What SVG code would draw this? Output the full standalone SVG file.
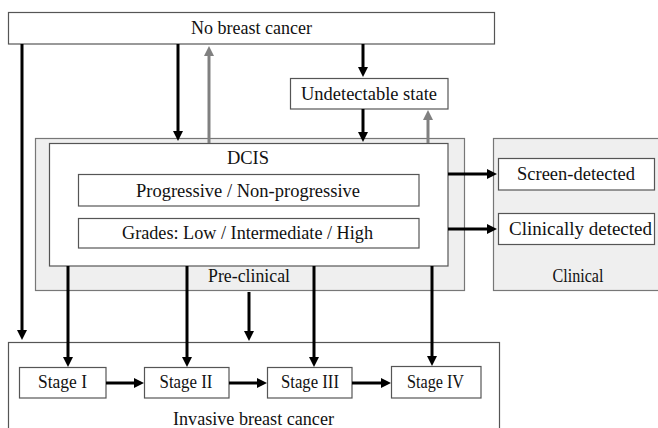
<svg xmlns="http://www.w3.org/2000/svg" width="658" height="428" viewBox="0 0 658 428">
<defs>
<style>
text{font-family:"Liberation Serif","DejaVu Serif",serif;font-size:18.5px;fill:#111;text-anchor:middle;lengthAdjust:spacingAndGlyphs}
.box{fill:#fff;stroke:#555;stroke-width:1.2}
.area{fill:#efefef;stroke:#777;stroke-width:1.2}
.ar{stroke:#000;stroke-width:3;fill:none;marker-end:url(#ah)}
.gr{stroke:#808080;stroke-width:3;fill:none;marker-end:url(#gh)}
</style>
<marker id="ah" viewBox="0 0 10 10" refX="2" refY="5" markerWidth="10" markerHeight="10" markerUnits="userSpaceOnUse" orient="auto"><path d="M0,0L10,5L0,10z" fill="#000"/></marker>
<marker id="gh" viewBox="0 0 10 10" refX="2" refY="5" markerWidth="10" markerHeight="10" markerUnits="userSpaceOnUse" orient="auto"><path d="M0,0L10,5L0,10z" fill="#808080"/></marker>
</defs>
<rect width="658" height="428" fill="#fff"/>
<g id="no-breast-cancer"><rect class="box" x="8.5" y="12.5" width="486" height="31.5"/><text x="251.5" y="34" textLength="121" lengthAdjust="spacingAndGlyphs">No breast cancer</text></g>
<g id="undetectable"><rect class="box" x="290.5" y="78.5" width="157.5" height="30.5"/><text x="369" y="100" textLength="136" lengthAdjust="spacingAndGlyphs">Undetectable state</text></g>
<g id="pre-clinical"><rect class="area" x="35.5" y="138.5" width="429" height="152"/><text x="249" y="282" textLength="82" lengthAdjust="spacingAndGlyphs">Pre-clinical</text></g>
<g id="dcis"><rect class="box" x="49.5" y="143.5" width="398.5" height="122.5"/><text x="248" y="164">DCIS</text></g>
<g id="progressive"><rect class="box" x="78.5" y="174.5" width="340.5" height="31.5"/><text x="248" y="197" textLength="224" lengthAdjust="spacingAndGlyphs">Progressive / Non-progressive</text></g>
<g id="grades"><rect class="box" x="78.5" y="218.5" width="340.5" height="29.5"/><text x="247.5" y="239" textLength="251" lengthAdjust="spacingAndGlyphs">Grades: Low / Intermediate / High</text></g>
<g id="clinical"><rect class="area" x="493.5" y="138.5" width="170" height="152"/><text x="578" y="282" textLength="51" lengthAdjust="spacingAndGlyphs">Clinical</text></g>
<g id="screen-detected"><rect class="box" x="498.5" y="158.5" width="156" height="31.5"/><text x="576" y="180" textLength="118" lengthAdjust="spacingAndGlyphs">Screen-detected</text></g>
<g id="clinically-detected"><rect class="box" x="498.5" y="213.5" width="156" height="31"/><text x="580.5" y="235" textLength="143" lengthAdjust="spacingAndGlyphs">Clinically detected</text></g>
<g id="invasive"><rect class="box" x="8.5" y="342.5" width="491" height="100"/><text x="253.5" y="425" textLength="161" lengthAdjust="spacingAndGlyphs">Invasive breast cancer</text></g>
<g id="stage1"><rect class="box" x="19.5" y="367.5" width="86.5" height="30.5"/><text x="62.5" y="388" textLength="49" lengthAdjust="spacingAndGlyphs">Stage I</text></g>
<g id="stage2"><rect class="box" x="144.5" y="367.5" width="84.5" height="30.5"/><text x="186" y="388" textLength="53" lengthAdjust="spacingAndGlyphs">Stage II</text></g>
<g id="stage3"><rect class="box" x="267.5" y="367.5" width="84.5" height="30.5"/><text x="310" y="388" textLength="58" lengthAdjust="spacingAndGlyphs">Stage III</text></g>
<g id="stage4"><rect class="box" x="391.5" y="366.5" width="89.5" height="31.5"/><text x="435.5" y="388" textLength="57" lengthAdjust="spacingAndGlyphs">Stage IV</text></g>
<g id="connectors">
<path class="ar" d="M22,44V332"/>
<path class="ar" d="M178,44V133"/>
<path class="gr" d="M209,143V54"/>
<path class="ar" d="M363,44V69"/>
<path class="ar" d="M363,109V134"/>
<path class="gr" d="M428,143V118"/>
<path class="ar" d="M448,174H489"/>
<path class="ar" d="M448,229H489"/>
<path class="ar" d="M68,266V359"/>
<path class="ar" d="M187,266V359"/>
<path class="ar" d="M314,266V359"/>
<path class="ar" d="M432,266V358"/>
<path class="ar" d="M249,292V333"/>
<path class="ar" d="M106,383H136"/>
<path class="ar" d="M229,383H259"/>
<path class="ar" d="M352,383H383"/>
</g>
</svg>
